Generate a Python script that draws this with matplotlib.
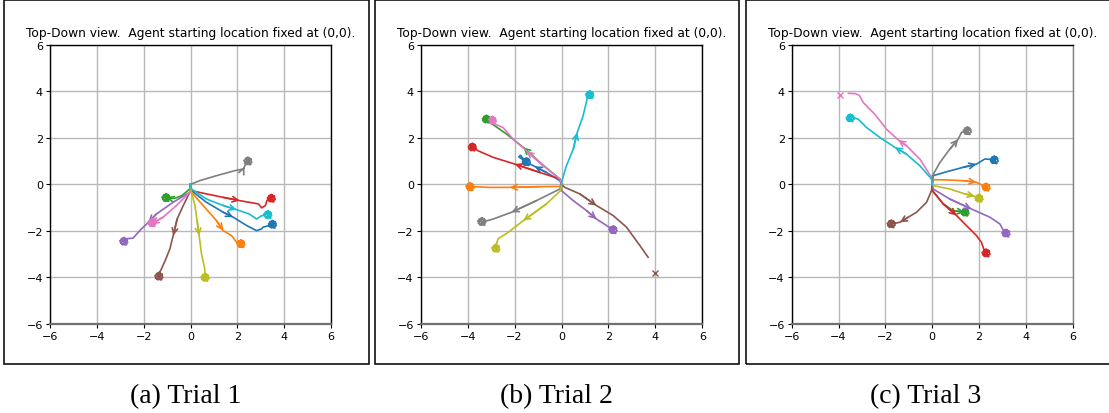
import matplotlib
matplotlib.use("Agg")
import matplotlib.pyplot as plt
from matplotlib.patches import Rectangle

W, H = 1109, 414

TITLE = "Top-Down view.  Agent starting location fixed at (0,0)."
CAPTIONS = ["(a) Trial 1", "(b) Trial 2", "(c) Trial 3"]
TICKS = [-6, -4, -2, 0, 2, 4, 6]
COLORS = ["C0", "C1", "C2", "C3", "C4", "C5", "C6", "C7", "C8", "C9"]

# ---- Trial 1 ----
t1_x = [
    [0, 0.04, 0.68, 1.4, 1.82, 2.4, 2.82, 3.04, 3.1, 3.46],
    [0, 0.04, 0.54, 1.11, 1.4, 1.75, 1.97, 2.1],
    [0, -0.03, -0.38, -0.67, -0.88, -1.03],
    [0, 0.04, 0.68, 1.4, 2.1, 2.9, 3.04, 3.2, 3.26, 3.46],
    [0, -0.03, -0.74, -1.45, -1.8, -2.17, -2.45, -2.74, -2.88],
    [0, -0.03, -0.31, -0.57, -0.74, -0.88, -1.05, -1.24, -1.38],
    [0, -0.03, -0.6, -1.17, -1.67],
    [0, 0.4, 1.1, 1.9, 2.26, 2.3, 2.4],
    [0, 0.04, 0.19, 0.28, 0.37, 0.47, 0.61, 0.61],
    [0, 0.04, 0.68, 1.4, 1.97, 2.5, 2.82, 3.0, 3.25],
]
t1_y = [
    [0, -0.27, -0.77, -1.2, -1.41, -1.77, -1.99, -1.91, -1.84, -1.74],
    [0, -0.34, -0.91, -1.56, -1.99, -2.2, -2.49, -2.56],
    [0, -0.2, -0.49, -0.6, -0.6, -0.56],
    [0, -0.27, -0.41, -0.56, -0.7, -0.84, -1.01, -0.91, -0.7, -0.6],
    [0, -0.34, -0.77, -1.27, -1.63, -1.99, -2.31, -2.34, -2.41],
    [0, -0.34, -0.91, -1.49, -2.2, -2.77, -3.2, -3.63, -3.91],
    [0, -0.34, -0.91, -1.41, -1.7],
    [0, 0.16, 0.37, 0.59, 0.66, 0.75, 0.98],
    [0, -0.34, -0.91, -1.56, -2.2, -2.99, -3.63, -3.91],
    [0, -0.2, -0.63, -0.91, -1.09, -1.27, -1.49, -1.37, -1.27],
]
t1_goal_x = [3.5, 2.15, -1.05, 3.45, -2.85, -1.35, -1.65, 2.45, 0.62, 3.3]
t1_goal_y = [-1.72, -2.55, -0.57, -0.6, -2.45, -3.95, -1.65, 1.0, -4.0, -1.3]
t1_arrow = [4, 4, 5, 4, 4, 4, 4, 5, 4, 4]
t1_reached = [True] * 10

# ---- Trial 2 ----
t2_x = [
    [0, -0.07, -0.64, -1.14, -1.49, -1.56, -1.7, -1.82, -1.75, -1.55],
    [0, -0.07, -0.92, -2.2, -3.05, -3.76, -3.9],
    [0, -0.07, -0.92, -1.63, -2.34, -3.05, -3.34],
    [0, -0.07, -0.92, -1.99, -2.91, -3.55, -3.76],
    [0, 0.0, 0.5, 1.07, 1.49, 1.92, 2.13],
    [0, 0.14, 0.78, 1.49, 2.2, 2.77, 3.34, 3.69],
    [0, -0.07, -0.78, -1.49, -2.06, -2.49, -2.84, -2.98],
    [0, -0.07, -1.07, -2.13, -2.91, -3.41],
    [0, -0.04, -0.64, -1.63, -2.27, -2.7, -2.8, -2.84],
    [0, 0.0, 0.21, 0.5, 0.67, 0.92, 1.02, 1.09, 1.14],
]
t2_y = [
    [0, 0.16, 0.51, 0.77, 0.94, 1.01, 1.1, 1.18, 1.25, 1.0],
    [0, -0.09, -0.1, -0.13, -0.13, -0.1, -0.09],
    [0, 0.23, 0.94, 1.59, 2.16, 2.66, 2.77],
    [0, 0.23, 0.51, 0.87, 1.16, 1.44, 1.59],
    [0, -0.27, -0.7, -1.13, -1.49, -1.77, -1.91],
    [0, -0.13, -0.41, -0.91, -1.34, -1.84, -2.63, -3.13],
    [0, 0.23, 0.8, 1.44, 1.94, 2.44, 2.59, 2.73],
    [0, -0.2, -0.7, -1.2, -1.49, -1.63],
    [0, -0.27, -0.84, -1.56, -2.06, -2.34, -2.63, -2.7],
    [0, 0.09, 0.8, 1.51, 2.23, 2.94, 3.37, 3.66, 3.87],
]
t2_goal_x = [-1.5, -3.9, -3.2, -3.8, 2.2, 3.98, -2.95, -3.4, -2.8, 1.2]
t2_goal_y = [0.97, -0.1, 2.8, 1.6, -1.95, -3.8, 2.75, -1.6, -2.75, 3.85]
t2_arrow = [3, 3, 3, 3, 4, 3, 3, 3, 3, 4]
t2_reached = [True, True, True, True, True, False, True, True, True, True]

# ---- Trial 3 ----
t3_x = [
    [0, 0.04, 0.61, 1.32, 1.89, 2.25, 2.6],
    [0, 0.07, 0.61, 1.32, 1.89, 2.25],
    [0, 0.01, 0.47, 0.9, 1.39],
    [0, 0.01, 0.47, 1.04, 1.46, 1.89, 2.1, 2.2, 2.25],
    [0, 0.04, 0.75, 1.68, 2.46, 2.89, 3.1],
    [0, -0.03, -0.24, -0.67, -1.02, -1.38, -1.74],
    [0, -0.03, -0.53, -1.1, -1.45, -1.95, -2.45, -2.94, -3.12, -3.3, -3.58],
    [0, 0.01, 0.33, 0.75, 1.11, 1.25, 1.47],
    [0, 0.07, 0.75, 1.39, 1.82, 1.96],
    [0, -0.03, -0.53, -1.1, -1.59, -2.23, -2.8, -3.16, -3.37, -3.51],
]
t3_y = [
    [0, 0.37, 0.54, 0.73, 0.87, 1.09, 1.06],
    [0, 0.2, 0.19, 0.16, 0.09, -0.09],
    [0, -0.27, -0.84, -1.13, -1.2],
    [0, -0.27, -0.84, -1.34, -1.77, -2.2, -2.49, -2.77, -2.94],
    [0, -0.2, -0.63, -1.06, -1.41, -1.7, -2.09],
    [0, -0.27, -0.77, -1.2, -1.41, -1.63, -1.7],
    [0, 0.3, 1.09, 1.66, 1.91, 2.37, 3.01, 3.51, 3.83, 3.9, 3.91],
    [0, 0.37, 0.94, 1.51, 1.94, 2.23, 2.3],
    [0, -0.06, -0.2, -0.41, -0.51, -0.6],
    [0, 0.23, 0.8, 1.3, 1.59, 2.01, 2.44, 2.8, 2.87, 2.87],
]
t3_goal_x = [2.65, 2.3, 1.4, 2.3, 3.15, -1.75, -3.94, 1.5, 2.0, -3.5]
t3_goal_y = [1.05, -0.12, -1.2, -2.95, -2.1, -1.7, 3.83, 2.3, -0.6, 2.85]
t3_arrow = [4, 4, 4, 3, 3, 5, 4, 4, 4, 4]
t3_reached = [True, True, True, True, True, True, False, True, True, True]

# small wandering of the agent around the goal once it is reached
SCRIB_DX = [0.15, 0.0, -0.17, -0.05, 0.17, 0.05, -0.14, 0.10, -0.05, 0.12, -0.1, 0.0]
SCRIB_DY = [0.05, 0.17, 0.02, -0.15, -0.05, 0.14, -0.08, -0.16, 0.10, 0.1, 0.12, 0.0]

TRIALS = [
    (t1_x, t1_y, t1_goal_x, t1_goal_y, t1_arrow, t1_reached),
    (t2_x, t2_y, t2_goal_x, t2_goal_y, t2_arrow, t2_reached),
    (t3_x, t3_y, t3_goal_x, t3_goal_y, t3_arrow, t3_reached),
]

# layout in pixels: (axes left, axes right), box (left, right)
AX_LR = [(50, 331), (420.7, 702.3), (791.7, 1072.7)]
AX_TOP, AX_BOT = 45.7, 325.0
BOX_LR = [(3.5, 368.5), (375, 738.5), (745.5, 1112)]
BOX_TOP, BOX_BOT = 0.8, 365.0
CAP_X = [186, 556, 926]
CAP_Y = 397

fig = plt.figure(figsize=(W / 100, H / 100), dpi=100)

for k, (xs, ys, gx, gy, arr, reached) in enumerate(TRIALS):
    l, r = AX_LR[k]
    ax = fig.add_axes([l / W, (H - AX_BOT) / H, (r - l) / W, (AX_BOT - AX_TOP) / H])
    ax.set_xlim(-6, 6)
    ax.set_ylim(-6, 6)
    ax.set_xticks(TICKS)
    ax.set_yticks(TICKS)
    ax.tick_params(labelsize=8, length=3, width=0.8, pad=2)
    ax.grid(True, color="#b8b8b8", lw=1.0)
    ax.set_axisbelow(True)
    for s in ax.spines.values():
        s.set_linewidth(1.0)
    ax.spines["bottom"].set_color("#707070")
    ax.spines["bottom"].set_linewidth(1.6)
    if k == 2:
        ax.spines["right"].set_color("#808080")
    ax.set_title(TITLE, fontsize=8.8, pad=6)
    for i in range(len(xs)):
        c = COLORS[i]
        px = list(xs[i])
        py = list(ys[i])
        if reached[i]:
            px += [gx[i] + d for d in SCRIB_DX]
            py += [gy[i] + d for d in SCRIB_DY]
        ax.plot(px, py, color=c, lw=1.2, zorder=3)
        ax.plot([gx[i]], [gy[i]], marker="x", color=c, ms=5, mew=1.0, ls="none", zorder=4)
        h = arr[i]
        ax.annotate("", xy=(xs[i][h], ys[i][h]), xytext=(xs[i][h - 1], ys[i][h - 1]),
                    arrowprops=dict(arrowstyle="->", color=c, lw=1.2, mutation_scale=10,
                                    shrinkA=0, shrinkB=0), zorder=3)
    bl, br = BOX_LR[k]
    fig.add_artist(Rectangle((bl / W, (H - BOX_BOT) / H), (br - bl) / W, (BOX_BOT - BOX_TOP) / H,
                             transform=fig.transFigure, fill=False, ec="#111111", lw=1.2))
    fig.text(CAP_X[k] / W, (H - CAP_Y) / H, CAPTIONS[k], fontsize=20,
             family="Liberation Serif", ha="center", va="center")

fig.savefig("out.png", dpi=100)
